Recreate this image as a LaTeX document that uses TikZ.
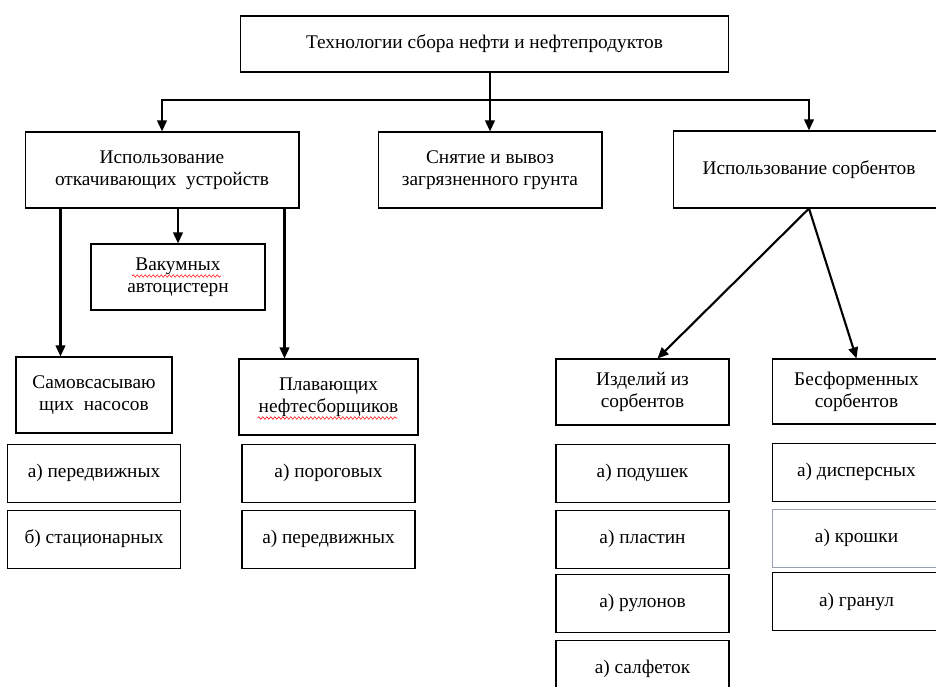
\documentclass[tikz,border=0pt]{standalone}
\usepackage{fontspec}
\setmainfont{Liberation Serif}
\usepackage{xcolor}
\usepackage{tikz}
\usetikzlibrary{arrows.meta,positioning,decorations.pathmorphing}

\definecolor{paleframe}{RGB}{150,160,175}

\begin{document}
\begin{tikzpicture}[
    x=0.02cm,y=-0.02cm,
    node distance=1.4mm,
    box/.style={draw,line width=0.6pt,align=center,inner sep=2pt,fill=white,font=\fontsize{11}{12.6}\selectfont},
    sub/.style={box,minimum width=3.46cm,minimum height=1.16cm},
    arrow/.style={-{Triangle[length=2.2mm,width=1.9mm]},line width=1.2pt},
    spell/.style={red,line width=0.3pt,decorate,decoration={snake,segment length=0.8mm,amplitude=0.25mm}}
  ]
    \useasboundingbox (0,0) rectangle (936,686);
    \clip (0,0) rectangle (936,686);

    \node[box,minimum width=9.78cm,minimum height=1.12cm] (tech) at (484.5,44) {Технологии сбора нефти и нефтепродуктов};
    \node[box,minimum width=5.48cm,minimum height=1.52cm] (pump) at (162,170) {Использование\\откачивающих\ \ устройств};
    \node[box,minimum width=4.48cm,minimum height=1.52cm] (soil) at (490,170) {Снятие и вывоз\\загрязненного грунта};
    \node[box,minimum width=5.44cm,minimum height=1.54cm] (sorb) at (809,169.5) {Использование сорбентов};

    \node[box,minimum width=3.48cm,minimum height=1.32cm] (vac) at (178,277) {Вакумных\\автоцистерн};
    \node[box,minimum width=3.12cm,minimum height=1.52cm] (self) at (94,395) {Самовсасываю\\щих\ \ насосов};
    \node[box,minimum width=3.58cm,minimum height=1.52cm] (float) at (328.5,397) {Плавающих\\нефтесборщиков};
    \node[box,minimum width=3.46cm,minimum height=1.32cm] (items) at (642.5,392) {Изделий из\\сорбентов};
    \node[box,minimum width=3.38cm,minimum height=1.30cm] (loose) at (856.5,391.5) {Бесформенных\\сорбентов};

    % pumps
    \node[sub,below=2mm of self] (selfa) {а) передвижных};
    \node[sub,below=of selfa] (selfb) {б) стационарных};
    \node[sub,below=1.6mm of float] (floata) {а) пороговых};
    \node[sub,below=of floata] (floatb) {а) передвижных};

    % sorbents
    \node[sub,below=3.6mm of items] (itemsa) {а) подушек};
    \node[sub,below=of itemsa] (itemsb) {а) пластин};
    \node[sub,below=1mm of itemsb] (itemsc) {а) рулонов};
    \node[sub,below=of itemsc] (itemsd) {а) салфеток};
    \node[sub,minimum width=3.38cm,below=3.6mm of loose] (loosea) {а) дисперсных};
    \node[sub,minimum width=3.38cm,draw=paleframe,line width=0.4pt,below=of loosea] (looseb) {а) крошки};
    \node[sub,minimum width=3.38cm,below=1mm of looseb] (loosec) {а) гранул};

    % spelling marks
    \draw[spell] ([shift={(-0.92cm,0.02cm)}]vac.center) -- ([shift={(0.86cm,0.02cm)}]vac.center);
    \draw[spell] ([shift={(-1.42cm,-0.42cm)}]float.center) -- ([shift={(1.38cm,-0.42cm)}]float.center);

    \path (tech.south -| soil.north) -- (soil.north) coordinate[pos=0.47] (bus);
    \draw[arrow] (tech.south -| soil.north) -- (soil.north);
    \draw[arrow] (bus) -| (pump.north);
    \draw[arrow] (bus) -| (sorb.north);

    \draw[arrow] ([xshift=0.72cm]pump.south west) -- ([xshift=0.72cm]pump.south west |- self.north);
    \draw[arrow] (pump.south -| vac.north) -- (vac.north);
    \draw[arrow] ([xshift=-0.3cm]pump.south east) -- ([xshift=-0.3cm]pump.south east |- float.north);

    \draw[arrow] (sorb.south) -- ([xshift=0.3cm]items.north);
    \draw[arrow] (sorb.south) -- (loose.north);
  \end{tikzpicture}
\end{document}
